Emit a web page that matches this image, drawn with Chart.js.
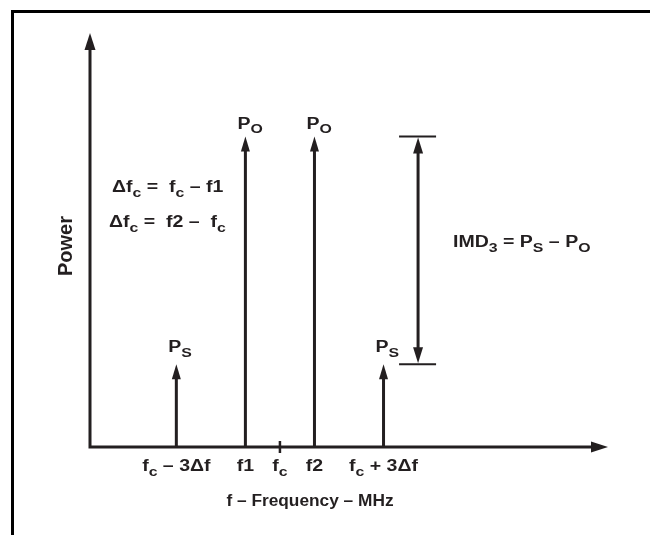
<!DOCTYPE html>
<html>
<head>
<meta charset="utf-8">
<script src="https://cdn.jsdelivr.net/npm/chart.js@4.4.0/dist/chart.umd.min.js"></script>
<style>
  html, body { margin: 0; padding: 0; background: #fff; }
  canvas { display: block; }
</style>
</head>
<body>
<canvas id="imdChart" width="650" height="535"></canvas>
<script>
// Two-tone spectrum: carriers f1/f2 and third order products
const tickPositions = [0, 2, 3, 4, 6];
const tickLabels = ['f{c} – 3Δf', 'f1', 'f{c}', 'f2', 'f{c} + 3Δf'];
const toneFreqs = [2, 4];
const tonePower = [75, 75];
const toneLabels = ['P{O}', 'P{O}'];
const imdFreqs = [0, 6];
const imdPower = [20, 20];
const imdLabels = ['P{S}', 'P{S}'];
const centerFreq = 3;
const bracketFreq = 7;

const INK = '#231f20';
const FONT = '"Liberation Sans", Arial, sans-serif';

// vertical stems, separated by null gaps
function stems(freqs, powers) {
    return freqs.flatMap((f, i) => [{x: f, y: 0}, {x: f, y: powers[i]}, {x: f, y: null}]);
}

// 'P{O}' -> P with subscript O
function parseRich(str) {
    const parts = [];
    const re = /([^{]+)|\{([^}]*)\}/g;
    let m;
    while ((m = re.exec(str)) !== null) {
        if (m[1]) parts.push({t: m[1], sub: false});
        else parts.push({t: m[2], sub: true});
    }
    return parts;
}

// the original lettering is wide, so text is stretched horizontally by sx
function drawRich(ctx, str, x, y, align, size, sx) {
    sx = sx || 1.22;
    const parts = parseRich(str);
    const mainFont = 'bold ' + size + 'px ' + FONT;
    const subFont = 'bold ' + Math.round(size * 0.82) + 'px ' + FONT;
    let total = 0;
    parts.forEach(p => {
        ctx.font = p.sub ? subFont : mainFont;
        p.w = ctx.measureText(p.t).width;
        total += p.w;
    });
    let cx = x;
    if (align === 'center') cx = x - total * sx / 2;
    if (align === 'right') cx = x - total * sx;
    ctx.save();
    ctx.translate(cx, y);
    ctx.scale(sx, 1);
    ctx.textAlign = 'left';
    ctx.textBaseline = 'alphabetic';
    let off = 0;
    parts.forEach(p => {
        ctx.font = p.sub ? subFont : mainFont;
        ctx.fillText(p.t, off, p.sub ? size * 0.3 : 0);
        off += p.w;
    });
    ctx.restore();
}

function arrowHead(ctx, x, y, dir, len, half) {
    ctx.beginPath();
    ctx.moveTo(x, y);
    ctx.lineTo(x - half, y + dir * len);
    ctx.lineTo(x + half, y + dir * len);
    ctx.closePath();
    ctx.fill();
}

const diagramPlugin = {
    id: 'diagram',
    beforeDraw(chart) {
        const ctx = chart.ctx;
        const area = chart.chartArea;
        ctx.save();
        ctx.fillStyle = '#fff';
        ctx.fillRect(0, 0, chart.width, chart.height);
        // frame (top and left edges)
        ctx.fillStyle = '#000';
        ctx.fillRect(11, 10, chart.width - 11, 3);
        ctx.fillRect(11, 10, 3, chart.height - 10);
        // axes with arrows
        ctx.strokeStyle = INK;
        ctx.fillStyle = INK;
        ctx.lineWidth = 3;
        ctx.beginPath();
        ctx.moveTo(area.left, area.bottom + 1.5);
        ctx.lineTo(area.left, area.top + 10);
        ctx.moveTo(area.left - 1.5, area.bottom);
        ctx.lineTo(area.right - 10, area.bottom);
        ctx.stroke();
        arrowHead(ctx, area.left, area.top, 1, 17, 5.5);
        ctx.beginPath();
        ctx.moveTo(area.right, area.bottom);
        ctx.lineTo(area.right - 17, area.bottom - 5.5);
        ctx.lineTo(area.right - 17, area.bottom + 5.5);
        ctx.closePath();
        ctx.fill();
        ctx.restore();
    },
    afterDatasetsDraw(chart) {
        const ctx = chart.ctx;
        const area = chart.chartArea;
        const xs = chart.scales.x;
        const ys = chart.scales.y;
        ctx.save();
        ctx.fillStyle = INK;
        ctx.strokeStyle = INK;

        // arrow heads and labels on each stem
        const heads = (freqs, powers, labels, gap) => {
            freqs.forEach((f, i) => {
                const px = xs.getPixelForValue(f);
                const py = ys.getPixelForValue(powers[i]);
                ctx.fillStyle = '#fff';
                ctx.fillRect(px - 3, py - 1, 6, 8);
                ctx.fillStyle = INK;
                arrowHead(ctx, px, py, 1, 15, 4.5);
                drawRich(ctx, labels[i], px - 8, py - gap, 'left', 16);
            });
        };
        heads(toneFreqs, tonePower, toneLabels, 8);
        heads(imdFreqs, imdPower, imdLabels, 12);

        // fc tick
        const fcX = xs.getPixelForValue(centerFreq);
        ctx.lineWidth = 2.5;
        ctx.beginPath();
        ctx.moveTo(fcX, area.bottom - 6);
        ctx.lineTo(fcX, area.bottom + 6);
        ctx.stroke();

        // IMD3 bracket
        const bx = xs.getPixelForValue(bracketFreq);
        const topY = ys.getPixelForValue(tonePower[1]);
        const botY = ys.getPixelForValue(imdPower[1]);
        ctx.lineWidth = 2;
        ctx.beginPath();
        ctx.moveTo(bx - 19, topY);
        ctx.lineTo(bx + 18, topY);
        ctx.moveTo(bx - 19, botY);
        ctx.lineTo(bx + 18, botY);
        ctx.stroke();
        ctx.lineWidth = 3;
        ctx.beginPath();
        ctx.moveTo(bx, topY + 12);
        ctx.lineTo(bx, botY - 12);
        ctx.stroke();
        arrowHead(ctx, bx, topY + 1, 1, 16, 5);
        arrowHead(ctx, bx, botY - 1, -1, 16, 5);

        // tick labels
        tickPositions.forEach((v, i) => {
            drawRich(ctx, tickLabels[i], xs.getPixelForValue(v), area.bottom + 24, 'center', 16);
        });

        // annotations
        drawRich(ctx, 'Δf{c} =  f{c} – f1', 112, 192, 'left', 16);
        drawRich(ctx, 'Δf{c} =  f2 –  f{c}', 109, 227, 'left', 16);
        drawRich(ctx, 'IMD{3} = P{S} – P{O}', 453, 247, 'left', 16);
        drawRich(ctx, 'f – Frequency – MHz', 310, 506, 'center', 16, 1.08);

        ctx.translate(72, 246);
        ctx.rotate(-Math.PI / 2);
        drawRich(ctx, 'Power', 0, 0, 'center', 20, 1);
        ctx.restore();
    }
};

const ctx = document.getElementById('imdChart').getContext('2d');
const imdChart = new Chart(ctx, {
    type: 'line',
    data: {
        datasets: [{
            label: 'Fundamental',
            data: stems(toneFreqs, tonePower),
            borderColor: INK,
            borderWidth: 3,
            pointRadius: 0,
            spanGaps: false
        }, {
            label: 'Third order',
            data: stems(imdFreqs, imdPower),
            borderColor: INK,
            borderWidth: 3,
            pointRadius: 0,
            spanGaps: false
        }]
    },
    options: {
        responsive: false,
        animation: false,
        layout: {
            padding: { top: 33, right: 42, bottom: 88, left: 90 }
        },
        scales: {
            x: { type: 'linear', min: -2.5, max: 12.5, display: false },
            y: { type: 'linear', min: 0, max: 100, display: false }
        },
        plugins: {
            legend: { display: false },
            tooltip: { enabled: false }
        }
    },
    plugins: [diagramPlugin]
});
</script>
</body>
</html>
